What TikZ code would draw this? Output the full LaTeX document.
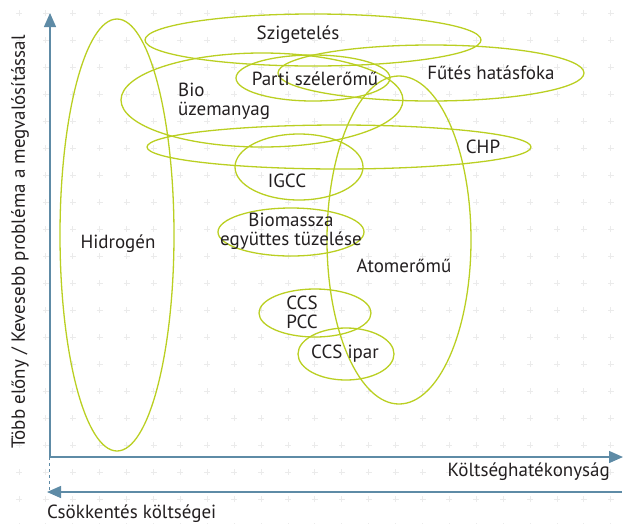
\documentclass[tikz,border=0pt]{standalone}
\usepackage{fontspec}
\setmainfont{PT Sans}
\usetikzlibrary{arrows.meta}
\definecolor{lime}{HTML}{BACF22}
\definecolor{axisblue}{HTML}{5E8BA6}
\definecolor{txt}{HTML}{231F20}
\definecolor{gridgray}{HTML}{EBEBEB}

\begin{document}
\begin{tikzpicture}[x=1pt, y=-1pt, font=\fontsize{19}{20}\selectfont]
\tikzstyle{blob}=[lime, line width = 1.3pt]
\tikzstyle{label}=[text = txt, inner sep = 0pt]
\tikzstyle{axis}=[axisblue, line width = 1.4pt]
\tikzstyle{tip}=[-{Triangle[length=14pt, width=12pt]}]
\useasboundingbox (0,0) rectangle (629,523);
% faint plus marks in the background
\foreach \i in {0,...,22} {
  \foreach \j in {0,...,19} {
    \draw [gridgray, line width = 1pt] (19+\i*26.9-3, 13+\j*27) -- ++(6,0) (19+\i*26.9, 13+\j*27-3) -- ++(0,6);
  }
}
% axes
\coordinate (O) at (50,457);
\coordinate (Ytop) at (50,13);
\coordinate (Xend) at (623,457);
\coordinate (Lstart) at (622,492);
\coordinate (Lend) at (47,492);
\coordinate (Dend) at (49,491);
\draw [axis, tip] (O) -- (Ytop);
\draw [axis, tip] (O) -- (Xend);
\draw [axis, tip] (Lstart) -- (Lend);
\draw [axis, dashed, line width = 1pt] (49,457) -- (Dend);
\node (xlab) [label, anchor = east] at (610,472) {Költséghatékonyság};
\node (costlab) [label, anchor = west] at (47,514) {Csökkentés költségei};
\node (ylab) [label, rotate = 90] at (20,242) {Több előny / Kevesebb probléma a megvalósítással};
% ellipses
\draw [blob] (117,235) ellipse (57 and 216);
\draw [blob] (313,40) ellipse (168 and 26);
\draw [blob] (431,73) ellipse (153 and 28);
\draw [blob] (313,78) ellipse (77 and 23);
\draw [blob] (262,100) ellipse (141 and 47);
\draw [blob] (339,147) ellipse (192 and 22);
\draw [blob] (299,167) ellipse (64 and 33);
\draw [blob] (291,232) ellipse (73 and 24);
\draw [blob] (399,240) ellipse (72 and 164);
\draw [blob] (315,313) ellipse (56 and 24);
\draw [blob] (346,354) ellipse (48 and 26);
% labels
\node (hyd) [label] at (118,244) {Hidrogén};
\node (insul) [label] at (298,35) {Szigetelés};
\node (heat) [label] at (491,73) {Fűtés hatásfoka};
\node (wind) [label] at (315,79) {Parti szélerőmű};
\node (bio) [label, align = left, anchor = west] at (178,101) {Bio\\[-1pt]üzemanyag};
\node (chp) [label] at (483,147) {CHP};
\node (igcc) [label] at (287,181) {IGCC};
\node (biom) [label, align = center] at (291,231) {Biomassza\\[-1pt]együttes tüzelése};
\node (nuc) [label] at (404,266) {Atomerőmű};
\node (pcc) [label, align = center] at (302,312) {CCS\\[-1pt]PCC};
\node (ind) [label] at (345,354) {CCS ipar};
\end{tikzpicture}
\end{document}
